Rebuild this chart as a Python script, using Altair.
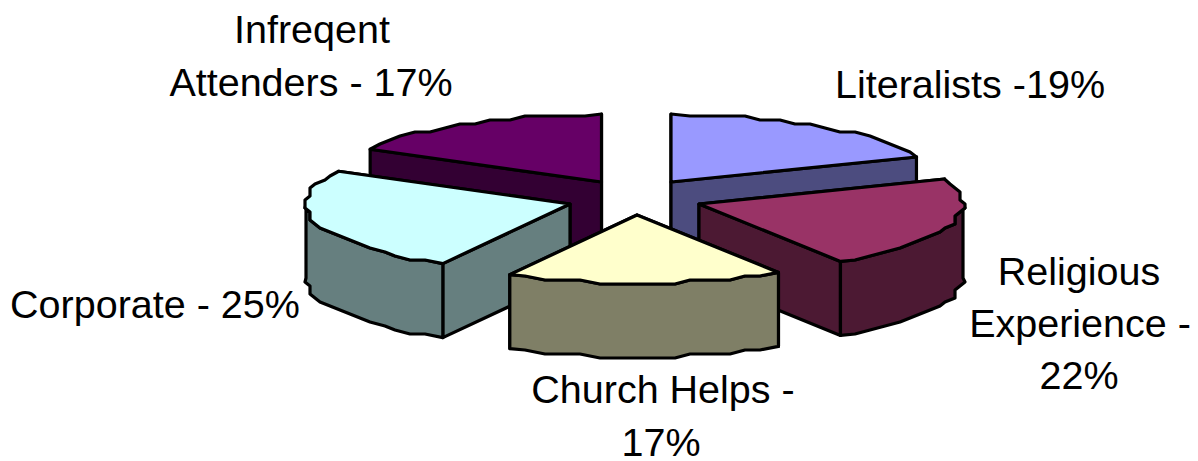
import math
import altair as alt

# Slices, clockwise from 12 o'clock
names = ["Literalists", "Religious Experience", "Church Helps", "Corporate", "Infrequent Attenders"]
shares = [19, 22, 17, 25, 17]
top_colors = ["#9999ff", "#993366", "#ffffcc", "#ccffff", "#660066"]
side_colors = ["#4c4c7f", "#4c1933", "#7f7f66", "#667f7f", "#330033"]
apex_x = [671, 699, 637, 570, 601.5]
apex_y = [182, 204, 215, 204, 182]

# Projected disc
RX, RY, DEPTH = 264, 68, 74
OX, OY = 8, 8  # page margin
STEP_DEG, SNAP_X, SNAP_Y = 4, 5, 4

# Labels
label_lines = ["Infreqent", "Attenders - 17%", "Literalists -19%", "Religious", "Experience -", "22%",
               "Church Helps -", "17%", "Corporate - 25%"]
label_x = [312, 311, 970, 1079, 1080, 1079, 663, 661, 155]
label_y = [43, 96, 98, 285, 337, 389, 403, 456, 318]


def point(ax, ay, deg):
    t = math.radians(deg)
    return (ax + RX * math.sin(t), ay - RY * math.cos(t))


def arc(ax, ay, a0, a1):
    n = max(2, int((a1 - a0) / STEP_DEG))
    pts = [point(ax, ay, a0)]
    for i in range(1, n):
        x, y = point(ax, ay, a0 + (a1 - a0) * i / n)
        pts.append((round(x / SNAP_X) * SNAP_X, round(y / SNAP_Y) * SNAP_Y))
    pts.append(point(ax, ay, a1))
    return pts


def feature(pts, fill):
    ring = [[x - OX, y - OY] for x, y in pts]
    ring.append(ring[0])
    return {"type": "Feature", "properties": {"fill": fill},
            "geometry": {"type": "Polygon", "coordinates": [ring]}}


def drop(pts):
    return [(x, y + DEPTH) for x, y in pts]


features = []
start = 0.0
slices = []
for i, share in enumerate(shares):
    end = start + share * 3.6
    slices.append((apex_y[i], i, start, end))
    start = end

for _, i, a0, a1 in sorted(slices, key=lambda s: (s[0], s[1])):
    ax, ay = apex_x[i], apex_y[i]
    rim = arc(ax, ay, a0, a1)
    walls = []
    for edge in ([(ax, ay), rim[0]], [(ax, ay), rim[-1]]):
        walls.append(edge + drop(edge)[::-1])
    # only the part of the rim that faces the viewer gets an outer wall
    v0, v1 = max(a0, 90), min(a1, 270)
    if v1 > v0:
        front = [p for p, d in zip(rim, [a0 + (a1 - a0) * k / (len(rim) - 1) for k in range(len(rim))])
                 if v0 <= d <= v1]
        front = [point(ax, ay, v0)] + front + [point(ax, ay, v1)]
        walls.append(front + drop(front)[::-1])
    walls.sort(key=lambda w: sum(p[1] for p in w) / len(w))
    for w in walls:
        features.append(feature(w, side_colors[i]))
    features.append(feature([(ax, ay)] + rim, top_colors[i]))

projection = dict(type="identity", scale=1, translate=[0, 0])

shapes = alt.Chart(alt.Data(values=features)).mark_geoshape(
    stroke="black", strokeWidth=3.2, strokeJoin="round"
).encode(fill=alt.Fill("properties.fill:N", scale=None, legend=None)).project(**projection)

label_rows = [{"t": t, "lon": x - OX, "lat": y - OY} for t, x, y in zip(label_lines, label_x, label_y)]
labels = alt.Chart(alt.Data(values=label_rows)).mark_text(
    font="Liberation Sans", fontSize=39.5, color="black", align="center", baseline="alphabetic"
).encode(longitude="lon:Q", latitude="lat:Q", text="t:N").project(**projection)

chart = alt.layer(shapes, labels).properties(
    width=1182, height=453, padding=0, autosize=alt.AutoSizeParams(type="none")
).configure_view(stroke=None)

chart.save("out.html", embed_options={"renderer": "svg", "actions": False})
